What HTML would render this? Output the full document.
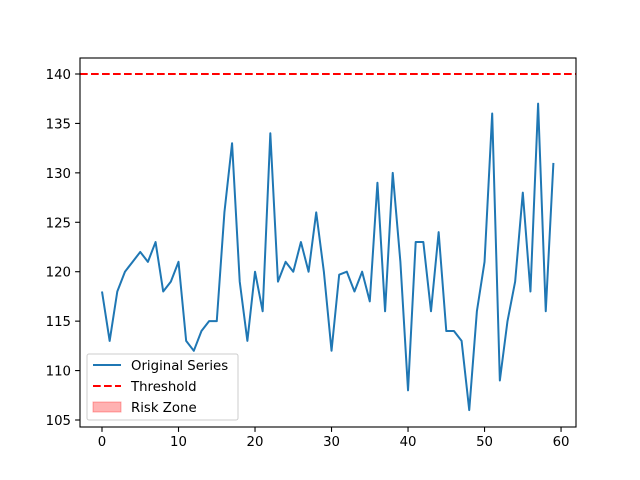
<!DOCTYPE html>
<html><head><meta charset="utf-8"><style>
body{margin:0;background:#fff}
svg{display:block;font-family:"DejaVu Sans","Liberation Sans",sans-serif}
</style></head><body>
<svg id="chart" width="640" height="480">
<rect x="0" y="0" width="640" height="480" fill="#fff"/>
<g id="plot"></g>
</svg>
<script>
const values=[118,113,118,120,121,122,121,123,118,119,121,113,112,114,115,115,126,133,119,113,120,116,134,119,121,120,123,120,126,120,112,119.7,120,118,120,117,129,116,130,121,108,123,123,116,124,114,114,113,106,116,121,136,109,115,119,128,118,137,116,131];
const threshold=140;
const xTicks=[0,10,20,30,40,50,60];
const yTicks=[105,110,115,120,125,130,135,140];
const L=80,R=576,T=58,B=427;
const xs=v=>102+(v-0)*(553.4-102)/59;
const ys=v=>74+(140-v)*(420-74)/35;
const NS="http://www.w3.org/2000/svg";
const g=document.getElementById('plot');
function mk(t,a){const e=document.createElementNS(NS,t);for(const k in a)e.setAttribute(k,a[k]);g.appendChild(e);return e;}
let thr=mk('line',{x1:L,x2:R,y1:ys(threshold),y2:ys(threshold),stroke:'#ff0000','stroke-width':2,'stroke-dasharray':'7.7,3.3'});


let d=values.map((v,i)=>(i?'L':'M')+xs(i).toFixed(2)+','+ys(v).toFixed(2)).join('');
let ln=mk('path',{d:d,fill:'none',stroke:'#1f77b4','stroke-width':2,'stroke-linejoin':'round'});


let fr=mk('rect',{x:L,y:T,width:R-L,height:B-T,fill:'none',stroke:'#000','stroke-width':1.1});


xTicks.forEach(t=>{
 let tk=mk('line',{x1:xs(t),x2:xs(t),y1:B,y2:B+4.9,stroke:'#000','stroke-width':1.1});
 
 
 let tx=mk('text',{x:xs(t),y:B+19,'text-anchor':'middle','font-size':13.3});
 tx.textContent=t;
 
 
});
yTicks.forEach(t=>{
 let tk=mk('line',{x1:L-4.9,x2:L,y1:ys(t),y2:ys(t),stroke:'#000','stroke-width':1.1});
 
 
 let tx=mk('text',{x:L-9,y:ys(t)+5,'text-anchor':'end','font-size':13.3});
 tx.textContent=t;
 
 
});
let lg=mk('rect',{x:87,y:354,width:151,height:66,rx:2,fill:'#fff','fill-opacity':0.8,stroke:'#ccc','stroke-width':1});


const items=[['Original Series','line'],['Threshold','dash'],['Risk Zone','patch']];
items.forEach((it,i)=>{
 const y=365+i*21;
 let s;
 if(it[1]==='line') s=mk('line',{x1:93,x2:121,y1:y,y2:y,stroke:'#1f77b4','stroke-width':2});
 else if(it[1]==='dash') s=mk('line',{x1:93,x2:121,y1:y,y2:y,stroke:'#ff0000','stroke-width':2,'stroke-dasharray':'7.7,3.3'});
 else s=mk('rect',{x:93,y:y-5,width:28,height:10,fill:'#ff0000','fill-opacity':0.3,stroke:'#ff0000','stroke-opacity':0.3});
 
 
 let tx=mk('text',{x:131,y:y+5,'font-size':13.3});
 tx.textContent=it[0];
 
 
});
</script>
</body></html>
